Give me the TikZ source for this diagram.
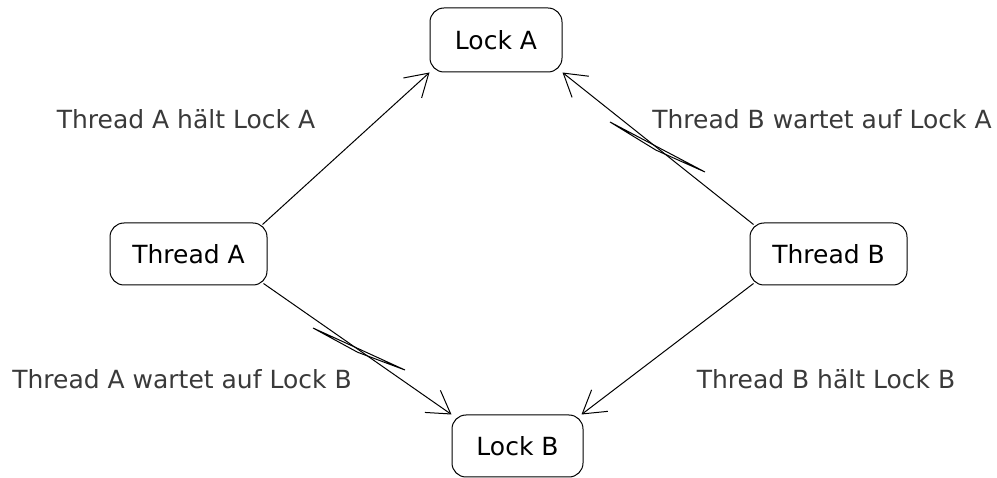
\documentclass[tikz,border=0pt]{standalone}
\usepackage{fontspec}
\setmainfont{DejaVu Sans}
\usetikzlibrary{arrows.meta,calc}
\definecolor{labelgrey}{HTML}{3A3A3A}
\begin{document}
\begin{tikzpicture}[x=1pt,y=-1pt,
  box/.style={draw, line width=1pt, rounded corners=14pt, inner sep=0pt,
              font=\fontsize{25}{30}\selectfont},
  rel/.style={line width=1pt,
              -{Straight Barb[length=22pt,width=27pt,line width=1pt]}},
  lbl/.style={text=labelgrey, inner sep=0pt, font=\fontsize{25}{30}\selectfont},
  waitmark/.style={line width=1pt, line join=miter}]
\fill[white] (0,0) rectangle (997,478);
\useasboundingbox (0,0) rectangle (997,478);

% resources and threads
\node[box, minimum width=132pt, minimum height=64pt] (la) at (496,40)    {Lock A};
\node[box, minimum width=131pt, minimum height=62pt] (lb) at (517.5,446) {Lock B};
\node[box, minimum width=157pt, minimum height=62pt] (ta) at (188.5,254) {Thread A};
\node[box, minimum width=157pt, minimum height=62pt] (tb) at (828.5,254) {Thread B};

% end points of the relations near the rounded corners
\coordinate (taTop) at ([xshift=-5pt,yshift=-2pt]ta.north east);
\coordinate (taBot) at ([xshift=-4pt,yshift=2pt]ta.south east);
\coordinate (tbTop) at ([xshift=4pt,yshift=-2pt]tb.north west);
\coordinate (tbBot) at ([xshift=4pt,yshift=2pt]tb.south west);

% relations
\draw[rel] (taTop) -- (la.south west);
\draw[rel] (tbTop) -- (la.south east);
\draw[rel] (taBot) -- (lb.north west);
\draw[rel] (tbBot) -- ([xshift=-2pt]lb.north east);

% waiting markers crossing the "wartet" relations (thin lens shapes)
\coordinate (wa0) at (313,328);
\coordinate (wam) at (357.5,352.2);
\coordinate (wa1) at (405,370);
\draw[waitmark] (wa0) -- (wa1) -- (wam) -- cycle;

\coordinate (wb0) at (610,122);
\coordinate (wbm) at (655.9,150.1);
\coordinate (wb1) at (705,172);
\draw[waitmark] (wb0) -- (wb1) -- (wbm) -- cycle;

% labels
\node[lbl] (l1) at (186,119) {Thread A hält Lock A};
\node[lbl] (l2) at (822,119) {Thread B wartet auf Lock A};
\node[lbl] (l3) at (182,379) {Thread A wartet auf Lock B};
\node[lbl] (l4) at (826,379) {Thread B hält Lock B};
\end{tikzpicture}
\end{document}
